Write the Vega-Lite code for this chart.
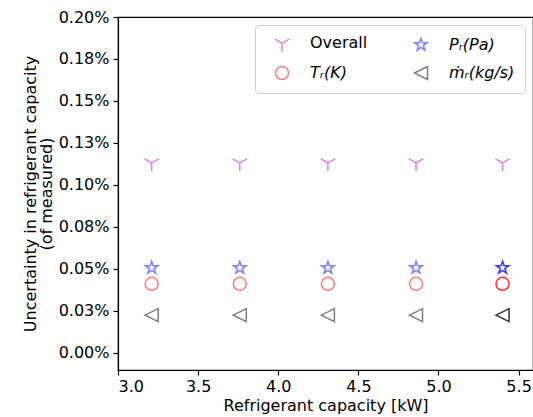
{
  "$schema": "https://vega.github.io/schema/vega-lite/v6.json",
  "width": 415,
  "height": 353,
  "autosize": {"type": "none"},
  "padding": {"left": 118, "top": 17, "right": 0, "bottom": 47},
  "config": {
    "font": "DejaVu Sans",
    "view": {"stroke": "black", "strokeWidth": 1.2},
    "axis": {
      "grid": false,
      "domainColor": "black",
      "domainWidth": 1.2,
      "tickColor": "black",
      "tickWidth": 1.2,
      "tickSize": 5,
      "labelColor": "black",
      "labelFontSize": 16,
      "labelFont": "DejaVu Sans",
      "titleColor": "black",
      "titleFontSize": 16,
      "titleFont": "DejaVu Sans",
      "titleFontWeight": "normal"
    }
  },
  "data": {
    "values": [
      {"series": "Overall", "capacity": 3.21, "uncertainty": 0.113},
      {"series": "Overall", "capacity": 3.76, "uncertainty": 0.113},
      {"series": "Overall", "capacity": 4.31, "uncertainty": 0.113},
      {"series": "Overall", "capacity": 4.86, "uncertainty": 0.113},
      {"series": "Overall", "capacity": 5.40, "uncertainty": 0.113},
      {"series": "Tᵣ(K)", "capacity": 3.21, "uncertainty": 0.041},
      {"series": "Tᵣ(K)", "capacity": 3.76, "uncertainty": 0.041},
      {"series": "Tᵣ(K)", "capacity": 4.31, "uncertainty": 0.041},
      {"series": "Tᵣ(K)", "capacity": 4.86, "uncertainty": 0.041},
      {"series": "Tᵣ(K)", "capacity": 5.40, "uncertainty": 0.041},
      {"series": "Tᵣ(K)", "capacity": 5.40, "uncertainty": 0.041},
      {"series": "Pᵣ(Pa)", "capacity": 3.21, "uncertainty": 0.0505},
      {"series": "Pᵣ(Pa)", "capacity": 3.76, "uncertainty": 0.0505},
      {"series": "Pᵣ(Pa)", "capacity": 4.31, "uncertainty": 0.0505},
      {"series": "Pᵣ(Pa)", "capacity": 4.86, "uncertainty": 0.0505},
      {"series": "Pᵣ(Pa)", "capacity": 5.40, "uncertainty": 0.0505},
      {"series": "Pᵣ(Pa)", "capacity": 5.40, "uncertainty": 0.0505},
      {"series": "ṁᵣ(kg/s)", "capacity": 3.21, "uncertainty": 0.0223},
      {"series": "ṁᵣ(kg/s)", "capacity": 3.76, "uncertainty": 0.0223},
      {"series": "ṁᵣ(kg/s)", "capacity": 4.31, "uncertainty": 0.0223},
      {"series": "ṁᵣ(kg/s)", "capacity": 4.86, "uncertainty": 0.0223},
      {"series": "ṁᵣ(kg/s)", "capacity": 5.40, "uncertainty": 0.0223},
      {"series": "ṁᵣ(kg/s)", "capacity": 5.40, "uncertainty": 0.0223}
    ]
  },
  "mark": {"type": "point", "filled": false, "size": 169, "strokeWidth": 1.5, "opacity": 0.5},
  "encoding": {
    "x": {
      "field": "capacity",
      "type": "quantitative",
      "scale": {"domain": [3, 5.59], "nice": false, "zero": false},
      "axis": {
        "values": [3, 3.5, 4, 4.5, 5, 5.5],
        "format": ".1f",
        "labelPadding": 3,
        "titlePadding": 3,
        "title": "Refrigerant capacity [kW]"
      }
    },
    "y": {
      "field": "uncertainty",
      "type": "quantitative",
      "scale": {"domain": [-0.0104, 0.2], "nice": false, "zero": false},
      "axis": {
        "values": [0, 0.025, 0.05, 0.075, 0.1, 0.125, 0.15, 0.175, 0.2],
        "labelExpr": "format(datum.value + 1e-9, '.2f') + '%'",
        "labelPadding": 4,
        "titlePadding": 4,
        "titleLineHeight": 16,
        "title": ["Uncertainty in refrigerant capacity", "(of measured)"]
      }
    },
    "color": {
      "field": "series",
      "type": "nominal",
      "scale": {
        "domain": ["Overall", "Tᵣ(K)", "Pᵣ(Pa)", "ṁᵣ(kg/s)"],
        "range": ["#bf00bf", "#ff0000", "#0000ff", "#000000"]
      },
      "legend": {
        "title": null,
        "orient": "top-right",
        "offset": 8,
        "columns": 2,
        "padding": 10,
        "rowPadding": 8,
        "columnPadding": 36,
        "symbolOffset": 9,
        "labelOffset": 20,
        "labelFontSize": 16,
        "labelFont": "DejaVu Sans",
        "labelColor": "black",
        "labelLimit": 200,
        "labelFontStyle": {"expr": "datum.label == 'Overall' ? 'normal' : 'italic'"},
        "strokeColor": "#cccccc",
        "fillColor": "white",
        "cornerRadius": 4,
        "symbolSize": 169,
        "symbolStrokeWidth": 1.5,
        "symbolOpacity": 0.5
      }
    },
    "shape": {
      "field": "series",
      "type": "nominal",
      "scale": {
        "domain": ["Overall", "Tᵣ(K)", "Pᵣ(Pa)", "ṁᵣ(kg/s)"],
        "range": [
          "M0,0L0,1.28M0,0L-1.1,-0.64M0,0L1.1,-0.64",
          "circle",
          "M0,-1L0.225,-0.309L0.951,-0.309L0.363,0.118L0.588,0.809L0,0.382L-0.588,0.809L-0.363,0.118L-0.951,-0.309L-0.225,-0.309Z",
          "M-1,0L1,-1L1,1Z"
        ]
      }
    }
  }
}
